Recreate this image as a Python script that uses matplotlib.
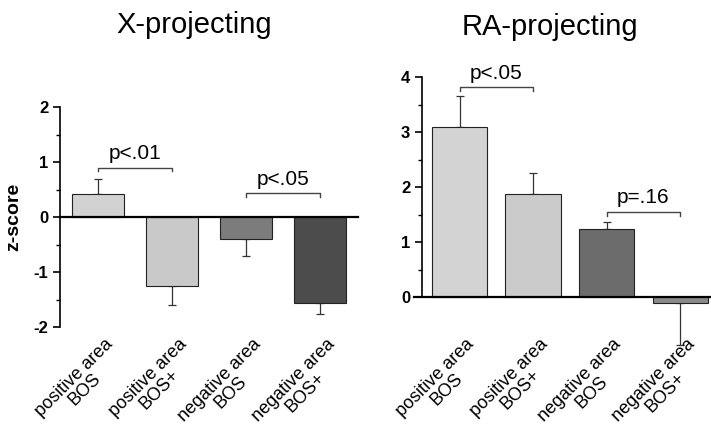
import matplotlib
matplotlib.use("Agg")
import matplotlib.pyplot as plt
import matplotlib.transforms as mtransforms

plt.rcParams['font.family'] = ['Liberation Sans', 'DejaVu Sans']

labels = ["positive area\nBOS", "positive area\nBOS+", "negative area\nBOS", "negative area\nBOS+"]

x_vals = [0.42, -1.25, -0.40, -1.57]
x_err = [0.27, 0.35, 0.31, 0.19]
x_colors = ["#d2d2d2", "#c9c9c9", "#7c7c7c", "#4c4c4c"]

ra_vals = [3.10, 1.87, 1.23, -0.11]
ra_err = [0.55, 0.39, 0.14, 0.76]
ra_colors = ["#d3d3d3", "#cbcbcb", "#6c6c6c", "#8a8a8a"]

x_pairs = [(0, 1, 0.90, "p<.01"), (2, 3, 0.43, "p<.05")]
ra_pairs = [(0, 1, 3.82, "p<.05"), (2, 3, 1.55, "p=.16")]

fig = plt.figure(figsize=(7.11, 4.45), dpi=100)
ax1 = fig.add_axes([60 / 711, 1 - 327 / 445, 298 / 711, 220 / 445])
ax2 = fig.add_axes([422 / 711, 1 - 346.5 / 445, 289 / 711, 269.5 / 445])


def draw(ax, vals, errs, colors, pairs, width, xlim, ylim, zero_left):
    pos = list(range(len(vals)))
    ax.bar(pos, vals, width=width, color=colors, edgecolor="#222222", linewidth=0.8, zorder=2)
    lo = [e if v < 0 else 0 for v, e in zip(vals, errs)]
    hi = [e if v >= 0 else 0 for v, e in zip(vals, errs)]
    ax.errorbar(pos, vals, yerr=[lo, hi], fmt="none", ecolor="#333333",
                elinewidth=0.9, capsize=3, capthick=0.9, zorder=1)
    ax.plot([zero_left, xlim[1]], [0, 0], color="black", lw=1.6, clip_on=False, zorder=3)
    for a, b, y, txt in pairs:
        ax.plot([a, a, b, b], [y - 0.07, y, y, y - 0.07], color="#444444", lw=1)
        ax.text((a + b) / 2, y + 0.08, txt, ha="center", va="bottom", fontsize=15)
    ax.set_xlim(*xlim)
    ax.set_ylim(*ylim)
    ax.spines["top"].set_visible(False)
    ax.spines["right"].set_visible(False)
    ax.spines["bottom"].set_visible(False)
    ax.spines["left"].set_linewidth(1.2)
    ax.set_xticks([])
    ax.tick_params(axis="y", which="major", length=5, width=1.2, labelsize=12)
    ax.tick_params(axis="y", which="minor", length=3, width=1)
    # category labels hang at a fixed height below both panels
    tr = mtransforms.blended_transform_factory(ax.transData, fig.transFigure)
    off = mtransforms.ScaledTranslation(6 / 100, 0, fig.dpi_scale_trans)
    for p, lab in zip(pos, labels):
        ax.text(p, 1 - 336 / 445, lab, transform=tr + off, rotation=45,
                ha="right", va="top", rotation_mode="anchor",
                multialignment="center", linespacing=0.95, fontsize=13)


draw(ax1, x_vals, x_err, x_colors, x_pairs, 0.70, (-0.51, 3.51), (-2, 2), -0.51)
ax1.set_yticks([-2, -1, 0, 1, 2])
ax1.set_yticklabels(["-2", "-1", "0", "1", "2"])
ax1.set_yticks([-1.5, -0.5, 0.5, 1.5], minor=True)
ax1.set_ylabel("z-score", fontsize=14, fontweight="bold", labelpad=8)

draw(ax2, ra_vals, ra_err, ra_colors, ra_pairs, 0.75, (-0.51, 3.42), (-0.9, 4.0), -0.62)
ax2.spines["left"].set_bounds(0, 4)
ax2.set_yticks([0, 1, 2, 3, 4])
ax2.set_yticks([0.5, 1.5, 2.5, 3.5], minor=True)

for ax in (ax1, ax2):
    for t in ax.get_yticklabels():
        t.set_fontweight("bold")

fig.text(194 / 711, 1 - 33 / 445, "X-projecting", ha="center", va="baseline", fontsize=21)
fig.text(550 / 711, 1 - 35 / 445, "RA-projecting", ha="center", va="baseline", fontsize=21)

fig.savefig("out.png", dpi=100)
